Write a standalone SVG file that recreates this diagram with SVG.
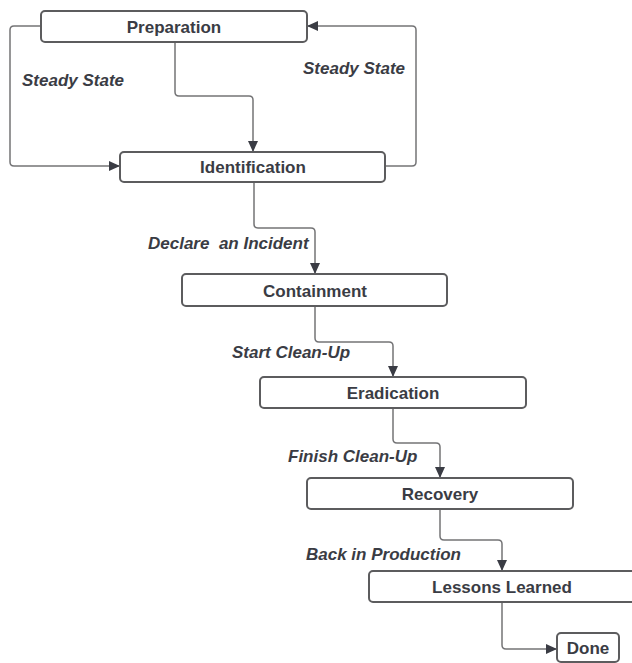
<svg xmlns="http://www.w3.org/2000/svg" width="632" height="663" viewBox="0 0 632 663">
  <style>
    .box { fill: #ffffff; stroke: #5c5c5e; stroke-width: 2; }
    .node-label { font-family: "Liberation Sans", Arial, sans-serif; font-weight: bold; font-size: 17px; fill: #3a3c44; text-anchor: middle; }
    .edge-label { font-family: "Liberation Sans", Arial, sans-serif; font-weight: bold; font-style: italic; font-size: 17px; fill: #3a3c44; }
    .edge { fill: none; stroke: #747476; stroke-width: 1.5; }
  </style>
  <defs>
    <marker id="arrow" markerUnits="userSpaceOnUse" markerWidth="12" markerHeight="10" refX="11" refY="5" orient="auto">
      <path d="M0,0 L11,5 L0,10 Z" fill="#3a3c44"/>
    </marker>
  </defs>
  <rect width="632" height="663" fill="#ffffff"/>

  <!-- connectors -->
  <g id="connectors">
    <path class="edge" marker-end="url(#arrow)" d="M175 42 V92 Q175 96 179 96 H249 Q253 96 253 100 V152"/>
    <path class="edge" marker-end="url(#arrow)" d="M41 26 H14 Q10 26 10 30 V162 Q10 166 14 166 H120"/>
    <path class="edge" marker-end="url(#arrow)" d="M385 166 H412 Q416 166 416 162 V30 Q416 26 412 26 H307"/>
    <path class="edge" marker-end="url(#arrow)" d="M254 182 V224 Q254 228 258 228 H311 Q315 228 315 232 V274"/>
    <path class="edge" marker-end="url(#arrow)" d="M315 306 V338 Q315 342 319 342 H389 Q393 342 393 346 V377"/>
    <path class="edge" marker-end="url(#arrow)" d="M393 408 V439 Q393 443 397 443 H436 Q440 443 440 447 V478"/>
    <path class="edge" marker-end="url(#arrow)" d="M440 509 V536 Q440 540 444 540 H498 Q502 540 502 544 V571"/>
    <path class="edge" marker-end="url(#arrow)" d="M502 602 V645 Q502 649 506 649 H557"/>

    <text class="edge-label" x="22" y="86">Steady State</text>
    <text class="edge-label" x="303" y="74">Steady State</text>
    <text class="edge-label" x="148" y="249" xml:space="preserve">Declare  an Incident</text>
    <text class="edge-label" x="232" y="358">Start Clean-Up</text>
    <text class="edge-label" x="288" y="462">Finish Clean-Up</text>
    <text class="edge-label" x="306" y="560">Back in Production</text>
  </g>

  <g id="preparation">
    <rect class="box" x="41" y="11" width="266" height="31" rx="4"/>
    <text class="node-label" x="174" y="33">Preparation</text>
  </g>
  <g id="identification">
    <rect class="box" x="120" y="152" width="265" height="30" rx="4"/>
    <text class="node-label" x="253" y="173">Identification</text>
  </g>
  <g id="containment">
    <rect class="box" x="182" y="274" width="265" height="32" rx="4"/>
    <text class="node-label" x="315" y="297">Containment</text>
  </g>
  <g id="eradication">
    <rect class="box" x="260" y="377" width="266" height="31" rx="4"/>
    <text class="node-label" x="393" y="399">Eradication</text>
  </g>
  <g id="recovery">
    <rect class="box" x="307" y="478" width="266" height="31" rx="4"/>
    <text class="node-label" x="440" y="500">Recovery</text>
  </g>
  <g id="lessons-learned">
    <rect class="box" x="369" y="571" width="267" height="31" rx="4"/>
    <text class="node-label" x="502" y="593">Lessons Learned</text>
  </g>
  <g id="done">
    <rect class="box" x="557" y="633" width="62" height="29" rx="4"/>
    <text class="node-label" x="588" y="654">Done</text>
  </g>
</svg>
